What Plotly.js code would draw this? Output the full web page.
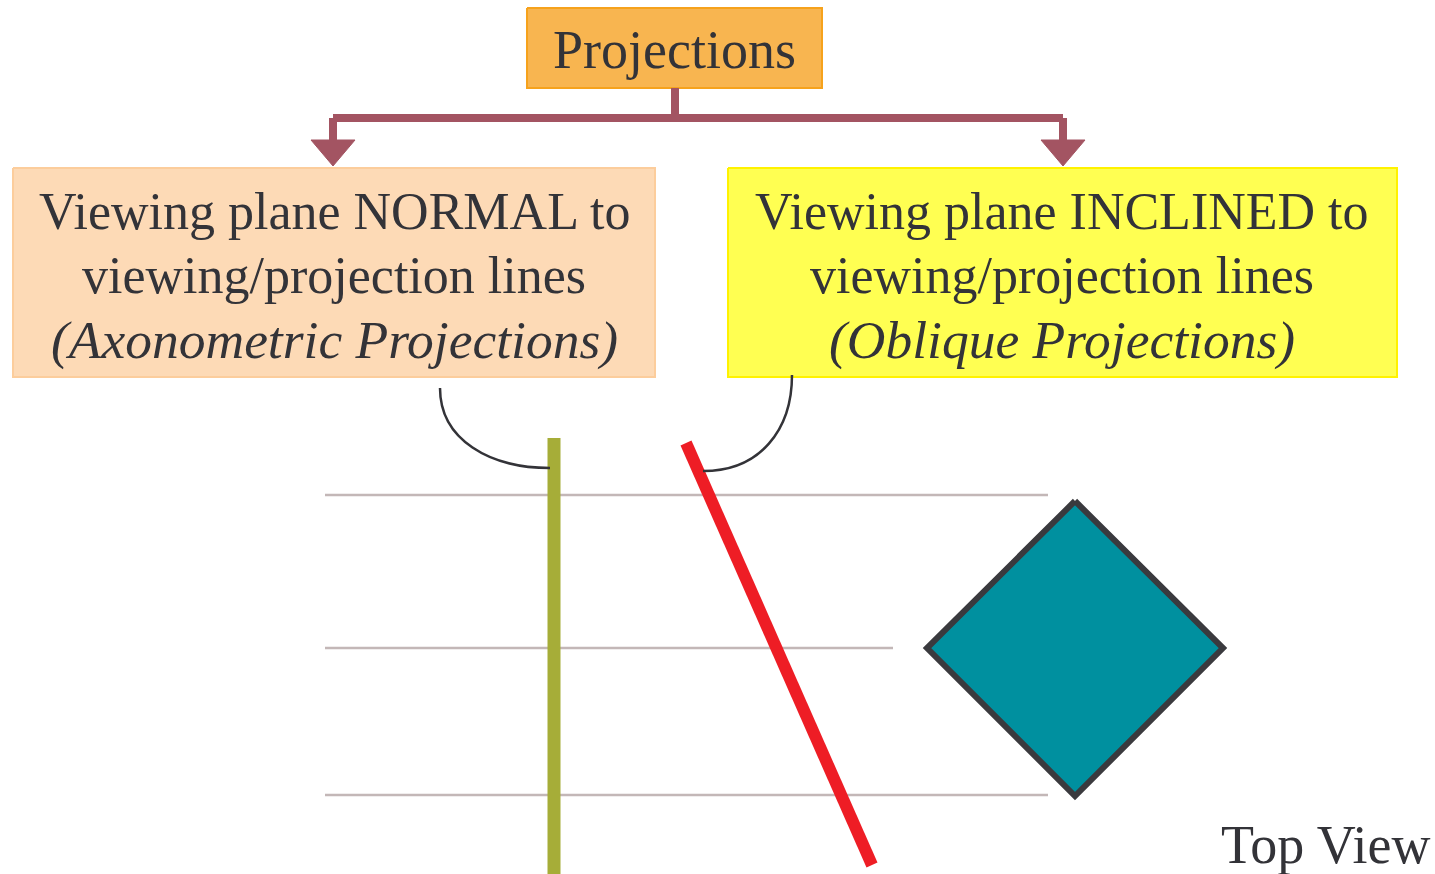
<!DOCTYPE html>
<html><head><meta charset="utf-8">
<script src="https://cdn.plot.ly/plotly-3.0.1.min.js"></script>
<style>html,body{margin:0;padding:0;background:#fff}#chart{width:1435px;height:874px}</style>
</head><body><div id="chart"></div>
<script>
// ---- data (diagram geometry, in picture units) ----
const titleLabel = "Projections";
const leftLines = ["Viewing plane NORMAL to", "viewing/projection lines", "<i>(Axonometric Projections)</i>"];
const rightLines = ["Viewing plane INCLINED to", "viewing/projection lines", "<i>(Oblique Projections)</i>"];
const cornerLabel = "Top View";

const titleBoxX = [527, 822, 822, 527, 527];
const titleBoxY = [8, 8, 88, 88, 8];
const leftBoxX = [13, 655, 655, 13, 13];
const leftBoxY = [168, 168, 377, 377, 168];
const rightBoxX = [728, 1397, 1397, 728, 728];
const rightBoxY = [168, 168, 377, 377, 168];

const connectorX = [675, 675, null, 333, 1063, null, 333, 333, null, 1063, 1063];
const connectorY = [88, 118, null, 118, 118, null, 118, 142, null, 118, 142];
const headLeftX = [311, 355, 333, 311];
const headLeftY = [140, 140, 166, 140];
const headRightX = [1041, 1085, 1063, 1041];
const headRightY = [140, 140, 166, 140];

const guideX = [325, 1048, null, 325, 893, null, 325, 1048];
const guideY = [495, 495, null, 648, 648, null, 795, 795];

const oliveX = [554, 554];
const oliveY = [438, 874];
const redX = [686, 872];
const redY = [443, 865];

const diamondX = [1075, 1223, 1075, 927, 1075];
const diamondY = [501, 648, 796, 648, 501];

const leftLineY = [211, 275, 340];
const rightLineY = [211, 275, 340];

// ---- traces ----
const traces = [
  {x: titleBoxX, y: titleBoxY, mode: 'lines', fill: 'toself', fillcolor: '#F8B550', line: {color: '#F6A21C', width: 2}},
  {x: leftBoxX, y: leftBoxY, mode: 'lines', fill: 'toself', fillcolor: '#FDDAB6', line: {color: '#FCCD9C', width: 2}},
  {x: rightBoxX, y: rightBoxY, mode: 'lines', fill: 'toself', fillcolor: '#FFFF52', line: {color: '#FFF200', width: 2}},
  {x: connectorX, y: connectorY, mode: 'lines', line: {color: '#A35462', width: 8}},
  {x: headLeftX, y: headLeftY, mode: 'lines', fill: 'toself', fillcolor: '#A35462', line: {color: '#A35462', width: 1}},
  {x: headRightX, y: headRightY, mode: 'lines', fill: 'toself', fillcolor: '#A35462', line: {color: '#A35462', width: 1}},
  {x: guideX, y: guideY, mode: 'lines', line: {color: '#C3B7B7', width: 2.5}},
  {x: oliveX, y: oliveY, mode: 'lines', line: {color: '#A6AD38', width: 13}},
  {x: redX, y: redY, mode: 'lines', line: {color: '#EE1D25', width: 12}},
  {x: diamondX, y: diamondY, mode: 'lines', fill: 'toself', fillcolor: '#00909F', line: {color: '#3A3A3E', width: 6}}
];

const font = {family: 'Liberation Serif, Times New Roman, serif', color: '#333338'};
const annotations = [];
annotations.push({x: 674, y: 50, text: titleLabel, showarrow: false, xanchor: 'center', yanchor: 'middle', font: Object.assign({size: 54}, font)});
leftLines.forEach((t, i) => annotations.push({x: 334, y: leftLineY[i], text: t, showarrow: false, xanchor: 'center', yanchor: 'middle', font: Object.assign({size: i === 2 ? 53.5 : 52}, font)}));
rightLines.forEach((t, i) => annotations.push({x: 1062, y: rightLineY[i], text: t, showarrow: false, xanchor: 'center', yanchor: 'middle', font: Object.assign({size: i === 2 ? 53.5 : 52}, font)}));
annotations.push({x: 1432, y: 845, text: cornerLabel, showarrow: false, xanchor: 'right', yanchor: 'middle', font: Object.assign({size: 54}, font)});

const shapes = [
  {type: 'path', xref: 'x', yref: 'y', path: 'M 440 388 C 440 440, 490 468, 550 468', line: {color: '#333338', width: 2.5}},
  {type: 'path', xref: 'x', yref: 'y', path: 'M 792 375 C 792 430, 760 471, 703 471', line: {color: '#333338', width: 2.5}}
];

const layout = {
  width: 1435, height: 874,
  margin: {l: 0, r: 0, t: 0, b: 0},
  paper_bgcolor: '#ffffff', plot_bgcolor: '#ffffff',
  showlegend: false,
  xaxis: {range: [0, 1435], visible: false, fixedrange: true},
  yaxis: {range: [874, 0], visible: false, fixedrange: true},
  annotations: annotations,
  shapes: shapes
};
traces.forEach(t => { t.hoverinfo = 'skip'; t.showlegend = false; });
Plotly.newPlot('chart', traces, layout, {staticPlot: true});
</script></body></html>
